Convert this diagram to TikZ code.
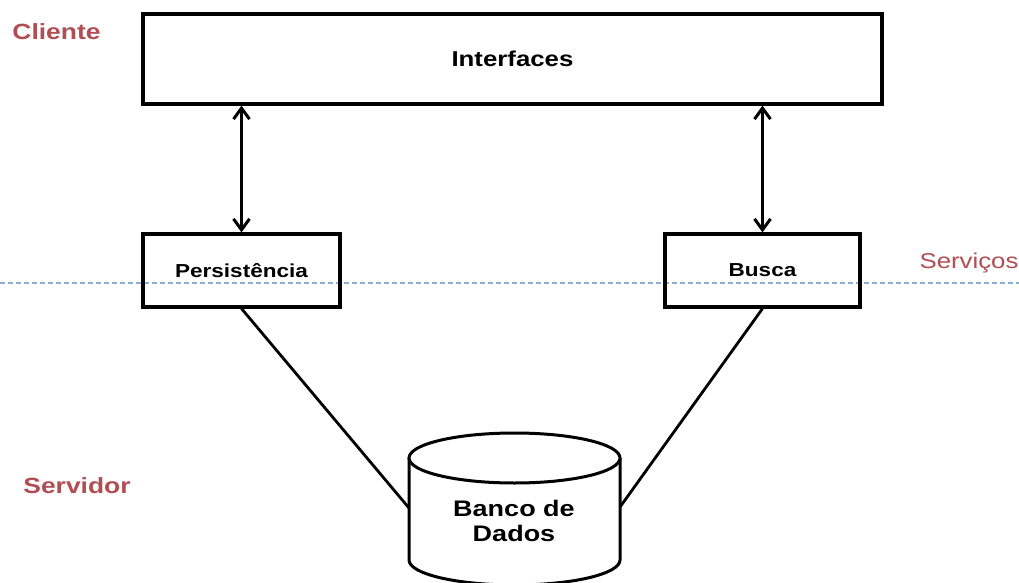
\documentclass[tikz,border=0pt]{standalone}
\usepackage{fontspec}
\setmainfont{Liberation Sans}
\newfontfamily\widefont[FakeStretch=1.2]{Liberation Sans}
\usetikzlibrary{arrows.meta}
\definecolor{tierred}{RGB}{176,78,84}
\definecolor{tierline}{RGB}{140,172,210}
\tikzset{
  box/.style={draw, line width=3.2pt, inner sep=0pt, font=\widefont\bfseries\fontsize{18.8}{22}\selectfont},
  tier/.style={text=tierred, inner sep=0pt, font=\widefont\bfseries\fontsize{22}{26}\selectfont},
  link/.style={line width=2.8pt},
  barb/.style={Straight Barb[length=11pt,width=16pt,line width=3pt]},
  duplex/.style={line width=3.2pt, {Straight Barb[length=11pt,width=16pt,line width=3pt]}-{Straight Barb[length=11pt,width=16pt,line width=3pt]}},
}
\begin{document}
\begin{tikzpicture}[x=1pt,y=-1pt]
\useasboundingbox (0,0) rectangle (1019,583);
\fill[white] (0,0) rectangle (1019,583);

% tier labels
\node[tier] (cliente) at (56.5,31.5) {Cliente};
\node[tier] (servidor) at (77,486) {Servidor};
\node[tier, font=\widefont\fontsize{21.5}{25}\selectfont] (servicos) at (969,263) {Serviços};

% boundary between client and services
\coordinate (sepL) at (0,283);
\coordinate (sepR) at (1019,283);
\draw[tierline, line width=1.1pt, dash pattern=on 5pt off 3pt] (sepL) -- (sepR);

% components
\node[box, minimum width=739pt, minimum height=90pt, font=\widefont\bfseries\fontsize{21.5}{25}\selectfont] (iface) at (512.5,59) {Interfaces};
\node[box, minimum width=197pt, minimum height=73pt] (pers) at (241.5,270.5) {Persistência};
\node[box, minimum width=195pt, minimum height=73pt] (busca) at (762.5,270.5) {Busca};

% database cylinder
\draw[line width=3pt, fill=white] (409,458) -- (409,560)
  arc[start angle=180, end angle=0, x radius=105.5, y radius=25] -- (620,458);
\draw[line width=3pt, fill=white] (514.5,458) ellipse [x radius=105.5, y radius=25];
\node[align=center, inner sep=0pt, font=\widefont\bfseries\fontsize{22.5}{24.5}\selectfont] (db) at (514,521) {Banco de\\Dados};
\coordinate (dbL) at (409,508);
\coordinate (dbR) at (620,507);

% connectors
\draw[duplex] (pers.north |- iface.south) -- (pers.north);
\draw[duplex] (busca.north |- iface.south) -- (busca.north);
\draw[link] (pers.south) -- (dbL);
\draw[link] (busca.south) -- (dbR);
\end{tikzpicture}
\end{document}
